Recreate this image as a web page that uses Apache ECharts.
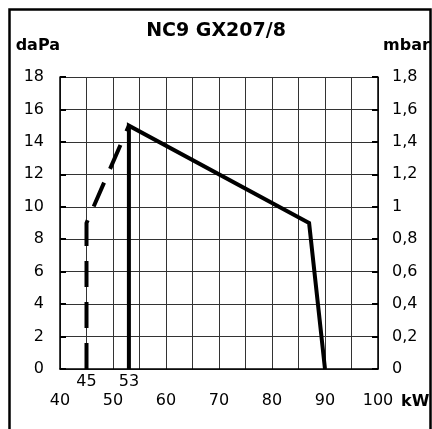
<!DOCTYPE html>
<html>
<head>
<meta charset="utf-8">
<script src="https://cdn.jsdelivr.net/npm/echarts@6/dist/echarts.min.js"></script>
<style>
html,body{margin:0;padding:0;background:#fff;}
#chart{width:432px;height:429px;}
</style>
</head>
<body>
<div id="chart"></div>
<script>
// ---- data ----
var titleText = 'NC9 GX207/8';
var leftUnit = 'daPa';
var rightUnit = 'mbar';
var xUnit = 'kW';
var xMin = 40, xMax = 100, xStep = 5;
var yMin = 0, yMax = 18, yStep = 2;
var xTickLabels = [40, 50, 60, 70, 80, 90, 100];
var xMarkLabels = [45, 53];
var solidCurve = [[53, 0], [53, 15], [87, 9], [90, 0]];
var dashedCurve = [[45, 0], [45, 9], [53, 15]];

var FONT = 'DejaVu Sans';
var chart = echarts.init(document.getElementById('chart'), null, {renderer: 'canvas'});

function commaFmt(v) {
  var r = Math.round(v) / 10;
  return String(r).replace('.', ',');
}

var option = {
  backgroundColor: '#fff',
  animation: false,
  title: {
    text: titleText,
    left: 'center',
    top: 22,
    padding: 0,
    textStyle: {fontFamily: FONT, fontSize: 19, fontWeight: 'bold', color: '#000'}
  },
  grid: {left: 60, right: 54, top: 77, bottom: 60, containLabel: false, outerBoundsMode: 'none'},
  xAxis: [{
    type: 'value', min: xMin, max: xMax, interval: xStep, position: 'bottom',
    name: xUnit, nameLocation: 'end', nameGap: 23,
    nameTextStyle: {fontFamily: FONT, fontSize: 16, fontWeight: 'bold', color: '#000', verticalAlign: 'top', padding: [25, 0, 0, 0]},
    axisLine: {show: true, lineStyle: {color: '#000', width: 1.5}},
    axisTick: {show: false},
    splitLine: {show: true, lineStyle: {color: '#333', width: 1}},
    axisLabel: {
      margin: 24, fontFamily: FONT, fontSize: 16, color: '#000',
      formatter: function (v) { return xTickLabels.indexOf(v) >= 0 ? String(v) : ''; }
    }
  }, {
    type: 'value', min: xMin, max: xMax, interval: 1, position: 'bottom',
    axisLine: {show: false}, axisTick: {show: false}, splitLine: {show: false},
    axisLabel: {
      margin: 5, fontFamily: FONT, fontSize: 16, color: '#000',
      formatter: function (v) { return xMarkLabels.indexOf(v) >= 0 ? String(v) : ''; }
    }
  }],
  yAxis: [{
    type: 'value', min: yMin, max: yMax, interval: yStep, position: 'left',
    name: leftUnit, nameLocation: 'end', nameGap: 31,
    nameTextStyle: {fontFamily: FONT, fontSize: 16, fontWeight: 'bold', color: '#000', align: 'right', verticalAlign: 'middle', padding: [0, 0, 0, 0]},
    axisLine: {show: true, lineStyle: {color: '#000', width: 1.5}},
    axisTick: {show: true, inside: true, length: 6, lineStyle: {color: '#000', width: 2}},
    splitLine: {show: true, lineStyle: {color: '#333', width: 1}},
    axisLabel: {margin: 16, fontFamily: FONT, fontSize: 16, color: '#000'}
  }, {
    type: 'value', min: yMin, max: yMax, interval: yStep, position: 'right',
    name: rightUnit, nameLocation: 'end', nameGap: 31,
    nameTextStyle: {fontFamily: FONT, fontSize: 16, fontWeight: 'bold', color: '#000', align: 'left', verticalAlign: 'middle', padding: [0, 0, 0, 5]},
    axisLine: {show: true, lineStyle: {color: '#000', width: 1.5}},
    axisTick: {show: true, inside: true, length: 6, lineStyle: {color: '#000', width: 2}},
    splitLine: {show: false},
    axisLabel: {margin: 14, fontFamily: FONT, fontSize: 16, color: '#000', formatter: commaFmt}
  }],
  series: [{
    type: 'line', xAxisIndex: 0, yAxisIndex: 0, data: solidCurve,
    showSymbol: false, symbol: 'none', silent: true,
    lineStyle: {color: '#000', width: 4, join: 'miter'}
  }, {
    type: 'line', xAxisIndex: 0, yAxisIndex: 0, data: dashedCurve,
    showSymbol: false, symbol: 'none', silent: true,
    lineStyle: {color: '#000', width: 4, type: [26, 15], cap: 'butt'}
  }],
  graphic: [{
    type: 'rect', z: 100, silent: true,
    shape: {x: 9.5, y: 9.5, width: 421, height: 450},
    style: {fill: null, stroke: '#000', lineWidth: 2.5}
  }]
};
chart.setOption(option);
</script>
</body>
</html>
